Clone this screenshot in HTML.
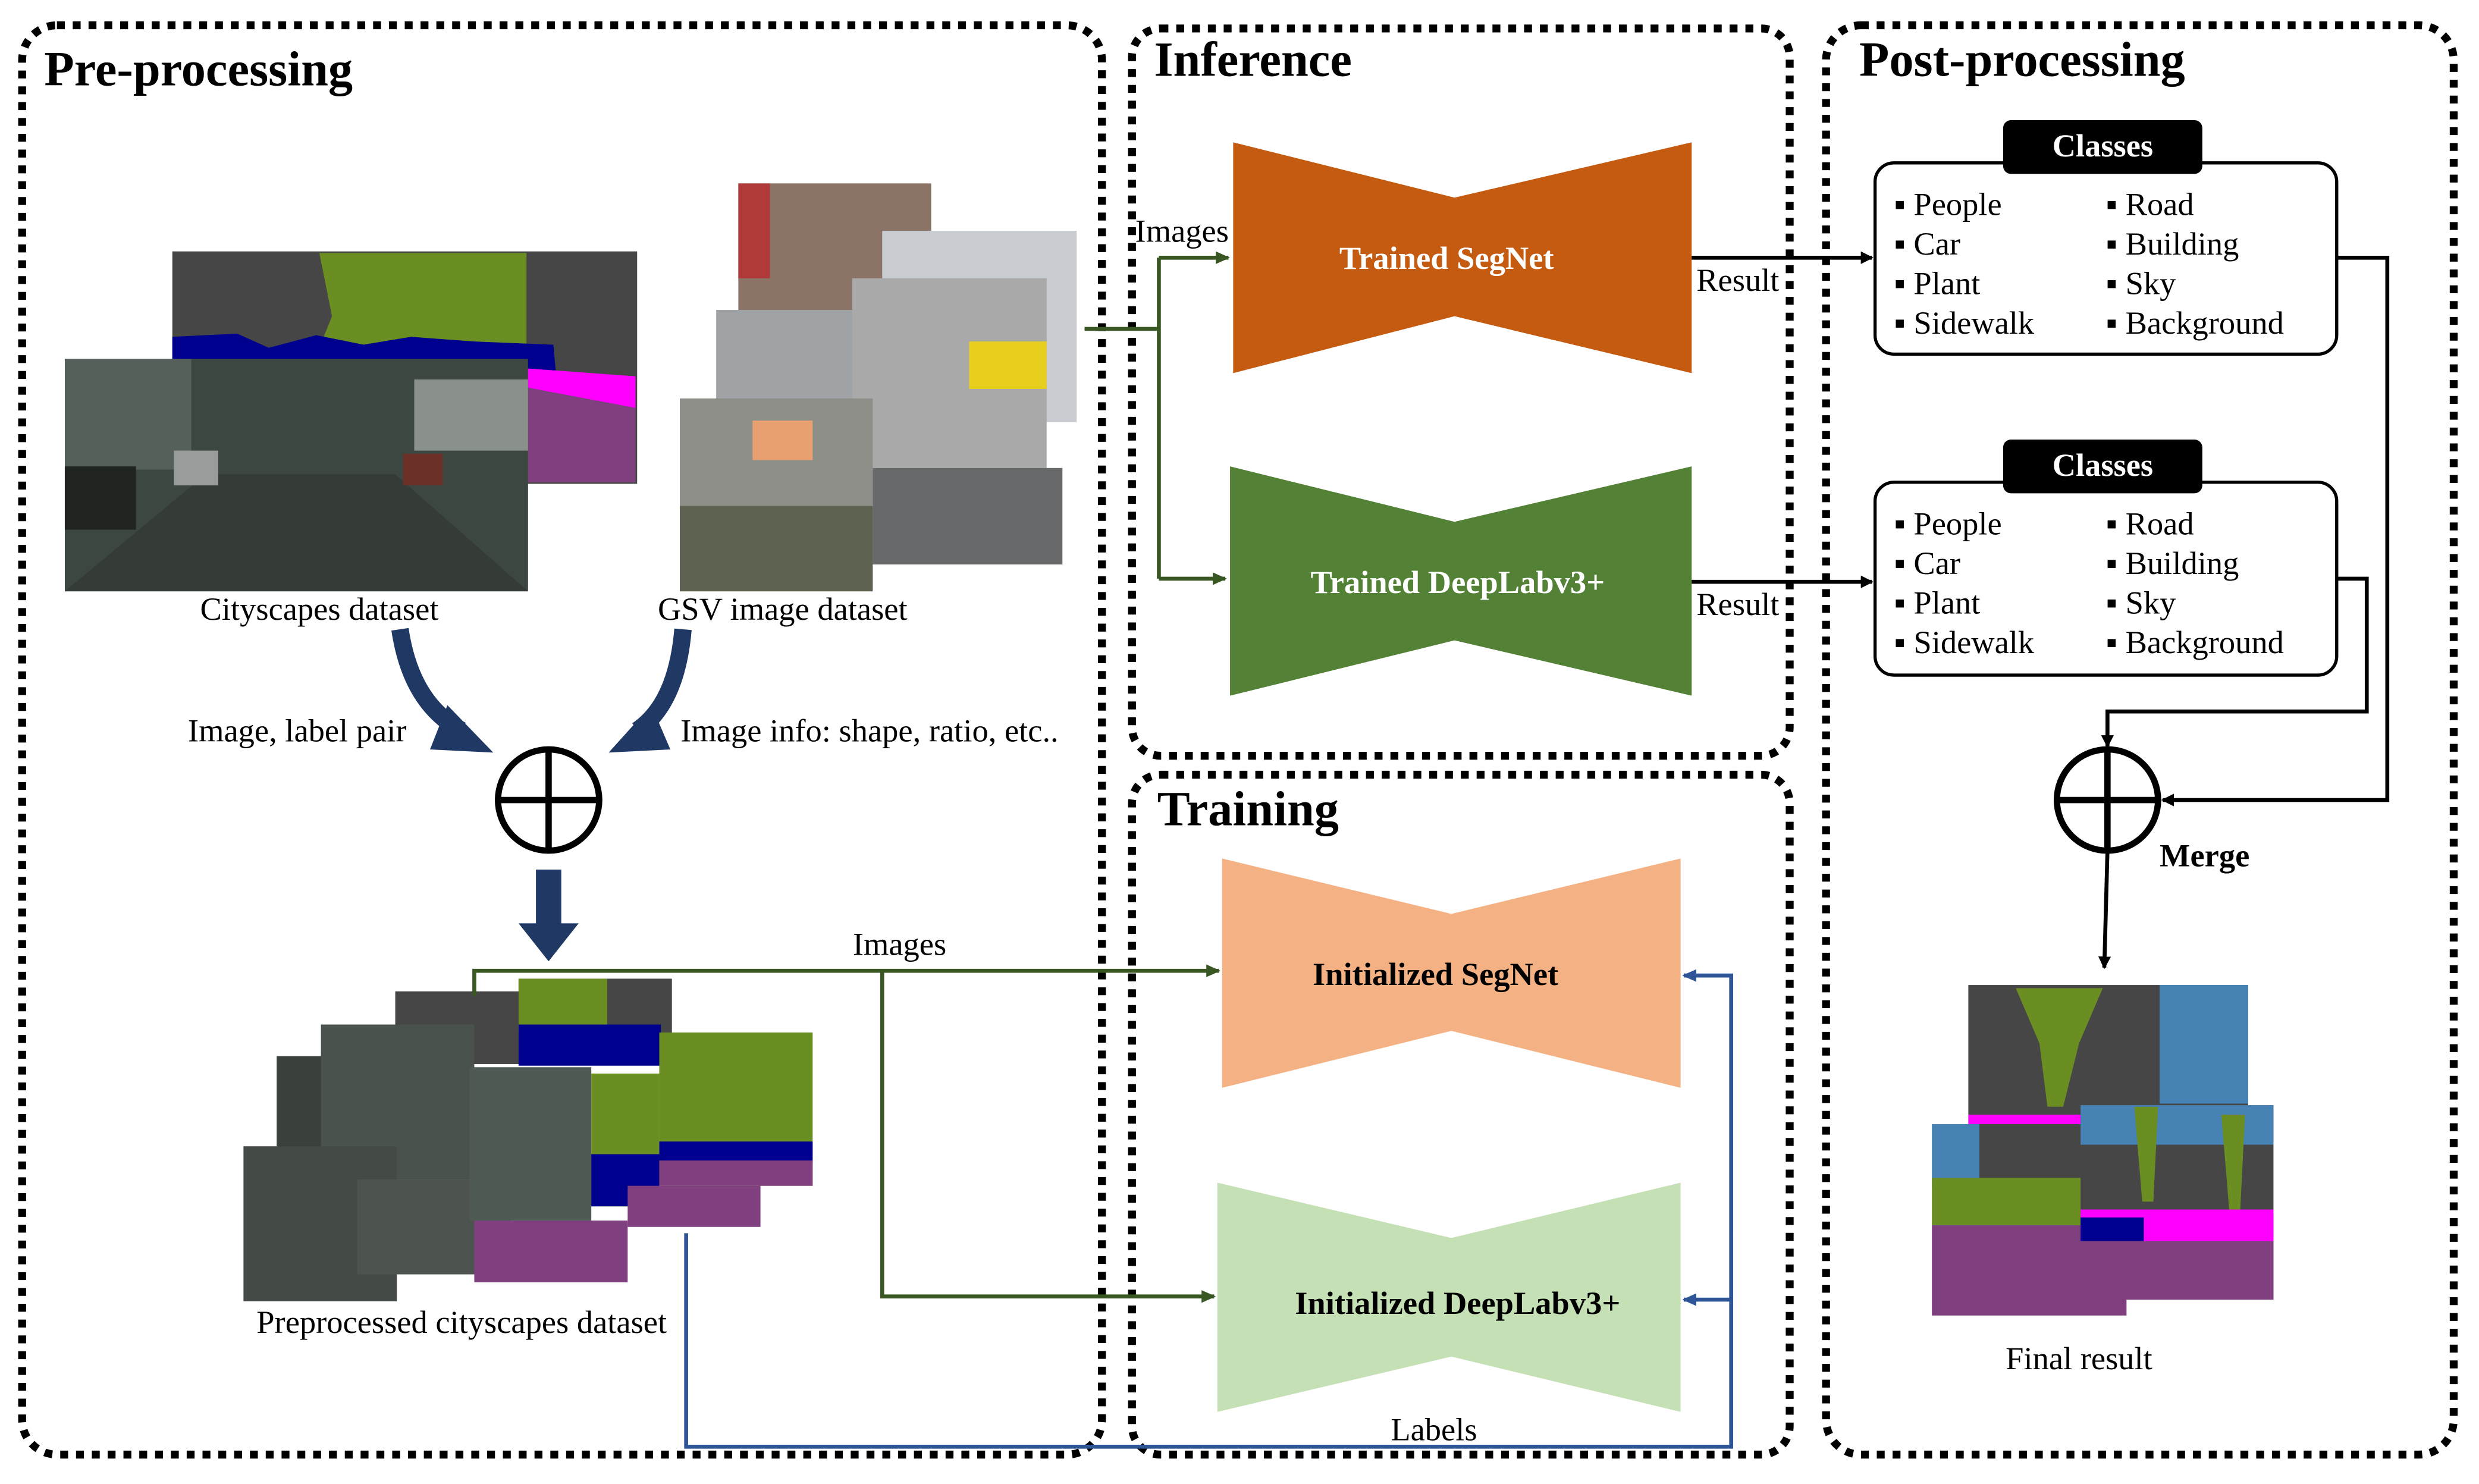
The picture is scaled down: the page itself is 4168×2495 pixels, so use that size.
<!DOCTYPE html>
<html><head><meta charset="utf-8"><style>
html,body{margin:0;padding:0;background:#fff;}
svg{display:block;}
text{font-family:"Liberation Serif",serif;}
</style></head><body>
<svg width="4168" height="2495" viewBox="0 0 1568 938.6" preserveAspectRatio="none" xmlns="http://www.w3.org/2000/svg">
<defs>
<marker id="ak" markerWidth="8" markerHeight="8" refX="7" refY="4" orient="auto" markerUnits="userSpaceOnUse"><path d="M0,0 L8,4 L0,8 Z" fill="#000"/></marker>
<marker id="ag" markerWidth="9" markerHeight="8" refX="8" refY="4" orient="auto" markerUnits="userSpaceOnUse"><path d="M0,0 L9,4 L0,8 Z" fill="#385723"/></marker>
<marker id="ab" markerWidth="9" markerHeight="8" refX="8" refY="4" orient="auto" markerUnits="userSpaceOnUse"><path d="M0,0 L9,4 L0,8 Z" fill="#2F5597"/></marker>
</defs>
<rect width="1568" height="939" fill="#fff"/>
<!-- panels -->
<g fill="none" stroke="#000" stroke-width="5" stroke-dasharray="5 5">
<rect x="14" y="16" width="683" height="904" rx="22"/>
<rect x="716" y="18" width="416" height="460" rx="18"/>
<rect x="716" y="490" width="416" height="430" rx="18"/>
<rect x="1155" y="16" width="397" height="904" rx="22"/>
</g>
<g font-weight="bold" font-size="31" fill="#000">
<text x="28" y="54">Pre-processing</text>
<text x="730" y="48">Inference</text>
<text x="732" y="522">Training</text>
<text x="1176" y="48">Post-processing</text>
</g>

<!-- Cityscapes label -->
<rect x="109" y="159" width="294" height="147" fill="#464646"/>
<path d="M202,160 L333,160 L333,220 L202,220 L210,200 Z" fill="#6B8E23"/>
<path d="M109,213 L150,211 L170,220 L200,212 L230,218 L260,213 L300,216 L350,218 L352,240 L109,240 Z" fill="#00008E"/>
<path d="M333,233 L402,238 L402,258 L333,245 Z" fill="#FF00FF"/>
<path d="M333,245 L402,258 L402,305 L333,305 Z" fill="#804080"/>
<!-- Cityscapes photo -->
<rect x="41" y="227" width="293" height="147" fill="#3d4741"/>
<rect x="41" y="227" width="80" height="70" fill="#55605a"/>
<rect x="262" y="240" width="72" height="45" fill="#8a918c"/>
<path d="M41,374 L130,300 L250,300 L334,374 Z" fill="#353c38"/>
<rect x="41" y="295" width="45" height="40" fill="#1f2421"/>
<rect x="110" y="285" width="28" height="22" fill="#9a9c9b"/>
<rect x="255" y="287" width="25" height="20" fill="#6b3028"/>

<!-- GSV -->
<rect x="467" y="116" width="122" height="121" fill="#8b7466"/>
<rect x="467" y="116" width="20" height="60" fill="#b03a3a"/>
<rect x="558" y="146" width="123" height="121" fill="#c8cbd0"/>
<rect x="453" y="196" width="99" height="123" fill="#9fa3a6"/>
<rect x="539" y="176" width="123" height="120" fill="#a8a9a8"/>
<rect x="613" y="216" width="49" height="30" fill="#e8cf1e"/>
<rect x="552" y="296" width="120" height="61" fill="#66686a"/>
<rect x="430" y="252" width="122" height="122" fill="#8d8f88"/>
<rect x="476" y="266" width="38" height="25" fill="#e8a070"/>
<rect x="430" y="320" width="122" height="54" fill="#5d6350"/>

<text x="202" y="392" font-size="20.5" text-anchor="middle">Cityscapes dataset</text>
<text x="495" y="392" font-size="20.5" text-anchor="middle">GSV image dataset</text>

<!-- big blue arrows -->
<g fill="none" stroke="#1F3864" stroke-width="11">
<path d="M253,398 Q260,445 292,462"/>
<path d="M432,398 Q428,445 403,462"/>
</g>
<path d="M283,446 L312,476 L272,474 Z" fill="#1F3864"/>
<path d="M412,446 L385,476 L424,474 Z" fill="#1F3864"/>
<text x="188" y="469" font-size="20.5" text-anchor="middle">Image, label pair</text>
<text x="550" y="469" font-size="20.5" text-anchor="middle">Image info: shape, ratio, etc..</text>

<g stroke="#000" stroke-width="4" fill="none"><circle cx="347" cy="506" r="32"/><path d="M315,506 H379 M347,474 V538"/></g>
<rect x="339" y="550" width="16" height="35" fill="#1F3864"/>
<path d="M328,584 L366,584 L347,608 Z" fill="#1F3864"/>

<!-- preprocessed collage -->
<rect x="250" y="627" width="79" height="46" fill="#464646"/>
<rect x="328" y="619" width="97" height="55" fill="#464646"/>
<rect x="328" y="619" width="56" height="35" fill="#6B8E23"/>
<rect x="328" y="648" width="90" height="26" fill="#00008E"/>
<rect x="175" y="668" width="30" height="70" fill="#3a403c"/>
<rect x="203" y="648" width="97" height="98" fill="#4a524c"/>
<rect x="154" y="725" width="97" height="98" fill="#444b46"/>
<rect x="226" y="746" width="97" height="60" fill="#4d544f"/>
<rect x="300" y="772" width="97" height="39" fill="#804080"/>
<rect x="297" y="675" width="77" height="97" fill="#4f5a55"/>
<rect x="374" y="679" width="43" height="84" fill="#6B8E23"/>
<rect x="374" y="730" width="43" height="33" fill="#00008E"/>
<rect x="397" y="750" width="84" height="26" fill="#804080"/>
<rect x="417" y="653" width="97" height="97" fill="#6B8E23"/>
<rect x="417" y="722" width="97" height="14" fill="#00008E"/>
<rect x="417" y="734" width="97" height="16" fill="#804080"/>
<text x="292" y="843" font-size="20.5" text-anchor="middle">Preprocessed cityscapes dataset</text>

<!-- green connectors -->
<g fill="none" stroke="#385723" stroke-width="2.5">
<path d="M300,630 V614 H771" marker-end="url(#ag)"/>
<path d="M558,614 V820 H768" marker-end="url(#ag)"/>
<path d="M686,208 H733"/>
<path d="M733,163 V366"/>
<path d="M733,163 H777" marker-end="url(#ag)"/>
<path d="M733,366 H775" marker-end="url(#ag)"/>
</g>
<text x="569" y="604" font-size="20.5" text-anchor="middle">Images</text>
<text x="718" y="153" font-size="20.5">Images</text>

<!-- blue connectors -->
<g fill="none" stroke="#2F5597" stroke-width="2.5">
<path d="M434,780 V915 H1095 V617 H1065" marker-end="url(#ab)"/>
<path d="M1095,822 H1065" marker-end="url(#ab)"/>
</g>
<text x="907" y="911" font-size="20.5" text-anchor="middle">Labels</text>

<!-- networks -->
<path d="M780,90 L920,125 L1070,90 L1070,236 L920,200 L780,236 Z" fill="#C55A11"/>
<text x="915" y="170" font-size="20.5" font-weight="bold" fill="#fff" text-anchor="middle">Trained SegNet</text>
<path d="M778,295 L920,330 L1070,295 L1070,440 L920,405 L778,440 Z" fill="#538135"/>
<text x="922" y="375" font-size="20.5" font-weight="bold" fill="#fff" text-anchor="middle">Trained DeepLabv3+</text>
<path d="M773,543 L918,578 L1063,543 L1063,688 L918,652 L773,688 Z" fill="#F4B183"/>
<text x="908" y="623" font-size="20.5" font-weight="bold" text-anchor="middle">Initialized SegNet</text>
<path d="M770,748 L918,783 L1063,748 L1063,893 L918,858 L770,893 Z" fill="#C5E0B4"/>
<text x="922" y="831" font-size="20.5" font-weight="bold" text-anchor="middle">Initialized DeepLabv3+</text>

<!-- result arrows -->
<g fill="none" stroke="#000" stroke-width="2.5">
<path d="M1070,163 H1184" marker-end="url(#ak)"/>
<path d="M1070,368 H1184" marker-end="url(#ak)"/>
<path d="M1478,163 H1510 V506 H1368" marker-end="url(#ak)"/>
<path d="M1478,366 H1497 V450 H1333 V472" marker-end="url(#ak)"/>
<path d="M1333,538 L1331,612" marker-end="url(#ak)"/>
</g>
<text x="1073" y="184" font-size="20.5">Result</text>
<text x="1073" y="389" font-size="20.5">Result</text>

<!-- classes boxes -->
<g font-size="20.5">
<rect x="1186" y="103" width="292" height="121" rx="12" fill="#fff" stroke="#000" stroke-width="2"/>
<rect x="1267" y="76" width="126" height="34" rx="5" fill="#000"/>
<text x="1330" y="99" font-weight="bold" fill="#fff" text-anchor="middle">Classes</text>
<text x="1198" y="136">▪ People</text><text x="1332" y="136">▪ Road</text>
<text x="1198" y="161">▪ Car</text><text x="1332" y="161">▪ Building</text>
<text x="1198" y="186">▪ Plant</text><text x="1332" y="186">▪ Sky</text>
<text x="1198" y="211">▪ Sidewalk</text><text x="1332" y="211">▪ Background</text>

<rect x="1186" y="305" width="292" height="122" rx="12" fill="#fff" stroke="#000" stroke-width="2"/>
<rect x="1267" y="278" width="126" height="34" rx="5" fill="#000"/>
<text x="1330" y="301" font-weight="bold" fill="#fff" text-anchor="middle">Classes</text>
<text x="1198" y="338">▪ People</text><text x="1332" y="338">▪ Road</text>
<text x="1198" y="363">▪ Car</text><text x="1332" y="363">▪ Building</text>
<text x="1198" y="388">▪ Plant</text><text x="1332" y="388">▪ Sky</text>
<text x="1198" y="413">▪ Sidewalk</text><text x="1332" y="413">▪ Background</text>
</g>

<g stroke="#000" stroke-width="4" fill="none"><circle cx="1333" cy="506" r="32"/><path d="M1301,506 H1365 M1333,474 V538"/></g>
<text x="1366" y="548" font-size="20.5" font-weight="bold">Merge</text>

<!-- final result -->
<rect x="1245" y="623" width="177" height="125" fill="#464646"/>
<rect x="1366" y="623" width="56" height="75" fill="#4682B4"/>
<path d="M1275,625 L1330,625 L1315,660 L1305,700 L1295,700 L1290,660 Z" fill="#6B8E23"/>
<rect x="1245" y="705" width="100" height="15" fill="#FF00FF"/>
<rect x="1245" y="718" width="100" height="30" fill="#00008E"/>
<rect x="1222" y="711" width="123" height="121" fill="#464646"/>
<rect x="1222" y="711" width="30" height="40" fill="#4682B4"/>
<rect x="1222" y="745" width="123" height="30" fill="#6B8E23"/>
<rect x="1222" y="775" width="123" height="57" fill="#804080"/>
<rect x="1316" y="699" width="122" height="123" fill="#464646"/>
<rect x="1316" y="699" width="122" height="25" fill="#4682B4"/>
<path d="M1350,700 L1365,700 L1362,760 L1355,760 Z M1405,705 L1420,705 L1417,765 L1410,765 Z" fill="#6B8E23"/>
<rect x="1316" y="765" width="122" height="20" fill="#FF00FF"/>
<rect x="1316" y="770" width="40" height="15" fill="#00008E"/>
<rect x="1316" y="785" width="122" height="37" fill="#804080"/>
<text x="1315" y="866" font-size="20.5" text-anchor="middle">Final result</text>
</svg>
</body></html>
